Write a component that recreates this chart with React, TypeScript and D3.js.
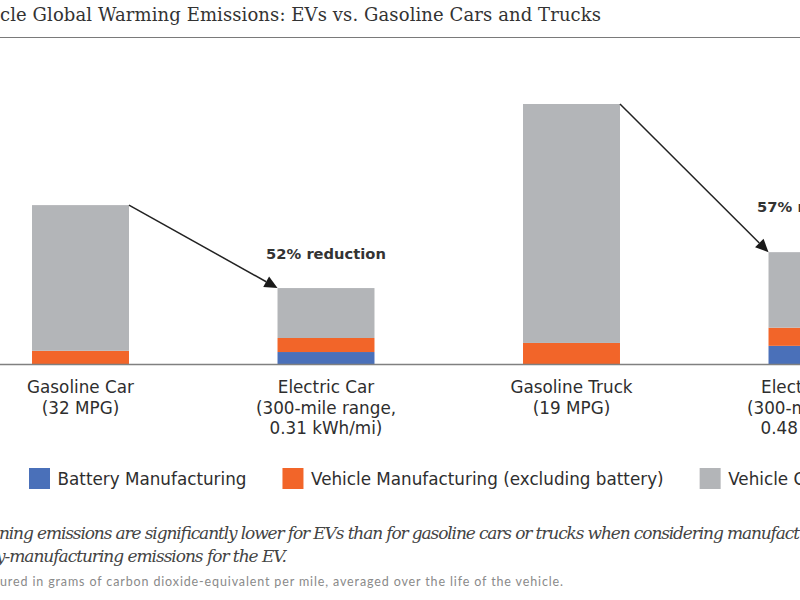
import React, { useEffect, useRef } from "react";
import * as d3 from "d3";

// ---- data (grams CO2e per mile) ----
const categories = ["Gasoline Car", "Electric Car", "Gasoline Truck", "Electric Truck"];
const categoryLabels = [
  ["Gasoline Car", "(32 MPG)"],
  ["Electric Car", "(300-mile range,", "0.31 kWh/mi)"],
  ["Gasoline Truck", "(19 MPG)"],
  ["Electric Truck", "(300-mile range,", "0.48 kWh/mi)"],
];
const batteryManufacturing = [0, 29, 0, 44];
const vehicleManufacturing = [32, 34, 51, 44];
const vehicleOperation = [353, 121, 579, 183];
const seriesNames = [
  "Battery Manufacturing",
  "Vehicle Manufacturing (excluding battery)",
  "Vehicle Operation",
];
const seriesColors = ["#4a70b9", "#f26529", "#b3b5b8"];
const reductionFrom = [0, 2];
const reductionTo = [1, 3];
const reductionLabels = ["52% reduction", "57% reduction"];

const titleText = "cle Global Warming Emissions: EVs vs. Gasoline Cars and Trucks";
const captionLine1 =
  "ning emissions are significantly lower for EVs than for gasoline cars or trucks when considering manufact";
const captionLine2 = "y-manufacturing emissions for the EV.";
const noteText =
  "ured in grams of carbon dioxide-equivalent per mile, averaged over the life of the vehicle.";

const W = 800;
const H = 600;
const SANS = "'DejaVu Sans', 'Open Sans', sans-serif";
const NOTE_SANS = "Lato, 'Open Sans', sans-serif";
const SERIF = "'DejaVu Serif', 'Liberation Serif', serif";

export default function App() {
  const ref = useRef<SVGSVGElement | null>(null);

  useEffect(() => {
    const svg = d3.select(ref.current);
    svg.selectAll("*").remove();

    // title
    svg
      .append("text")
      .attr("x", 0)
      .attr("y", 21)
      .attr("font-family", SERIF)
      .attr("font-size", 18)
      .attr("fill", "#333")
      .attr("textLength", 601)
      .text(titleText);
    svg
      .append("line")
      .attr("x1", 0)
      .attr("x2", W)
      .attr("y1", 37.5)
      .attr("y2", 37.5)
      .attr("stroke", "#7a7a7a")
      .attr("stroke-width", 1.2);

    const x = d3
      .scaleBand<string>()
      .domain(categories)
      .range([-42.25, 939.75])
      .paddingInner(0.605)
      .paddingOuter(0.3025);
    const totals = categories.map(
      (_, i) => batteryManufacturing[i] + vehicleManufacturing[i] + vehicleOperation[i]
    );
    const y = d3.scaleLinear().domain([0, d3.max(totals) as number]).range([364, 104]);

    const rows = categories.map((c, i) => ({
      cat: c,
      b: batteryManufacturing[i],
      m: vehicleManufacturing[i],
      o: vehicleOperation[i],
    }));
    const stack = d3.stack<any>().keys(["b", "m", "o"]);
    const series = stack(rows);

    const g = svg.append("g");
    series.forEach((s, si) => {
      g.selectAll(null)
        .data(s)
        .enter()
        .append("rect")
        .attr("x", (d: any) => x(d.data.cat) as number)
        .attr("width", x.bandwidth())
        .attr("y", (d: any) => y(d[1]))
        .attr("height", (d: any) => Math.max(0, y(d[0]) - y(d[1])))
        .attr("fill", seriesColors[si]);
    });

    // baseline
    svg
      .append("line")
      .attr("x1", 0)
      .attr("x2", W)
      .attr("y1", y(0) + 0.5)
      .attr("y2", y(0) + 0.5)
      .attr("stroke", "#808080")
      .attr("stroke-width", 1.5);

    // category labels
    categoryLabels.forEach((lines, i) => {
      const cx = (x(categories[i]) as number) + x.bandwidth() / 2;
      lines.forEach((ln, li) => {
        svg
          .append("text")
          .attr("x", cx)
          .attr("y", 393 + li * 20.5)
          .attr("text-anchor", "middle")
          .attr("font-family", SANS)
          .attr("font-size", 16.8)
          .attr("fill", "#2e2e2e")
          .text(ln);
      });
    });

    // reduction arrows
    const labelGap = [29, 40];
    reductionFrom.forEach((fi, k) => {
      const ti = reductionTo[k];
      const x1 = (x(categories[fi]) as number) + x.bandwidth();
      const y1 = y(totals[fi]);
      const x2 = x(categories[ti]) as number;
      const y2 = y(totals[ti]);
      const ang = Math.atan2(y2 - y1, x2 - x1);
      const hl = 13;
      const hw = 6;
      const bx = x2 - hl * Math.cos(ang);
      const by = y2 - hl * Math.sin(ang);
      svg
        .append("line")
        .attr("x1", x1)
        .attr("y1", y1)
        .attr("x2", bx)
        .attr("y2", by)
        .attr("stroke", "#222")
        .attr("stroke-width", 1.5);
      const px = -Math.sin(ang);
      const py = Math.cos(ang);
      svg
        .append("path")
        .attr(
          "d",
          `M${x2},${y2}L${bx + px * hw},${by + py * hw}L${bx - px * hw},${by - py * hw}Z`
        )
        .attr("fill", "#1a1a1a");
      svg
        .append("text")
        .attr("x", x2 + x.bandwidth() / 2)
        .attr("y", y2 - labelGap[k])
        .attr("text-anchor", "middle")
        .attr("font-family", SANS)
        .attr("font-size", 14.7)
        .attr("font-weight", 700)
        .attr("fill", "#333")
        .text(reductionLabels[k]);
    });

    // legend
    let lx = 29;
    seriesNames.forEach((name, i) => {
      svg
        .append("rect")
        .attr("x", lx)
        .attr("y", 468)
        .attr("width", 21)
        .attr("height", 21)
        .attr("fill", seriesColors[i]);
      const t = svg
        .append("text")
        .attr("x", lx + 28.5)
        .attr("y", 484.5)
        .attr("font-family", SANS)
        .attr("font-size", 16.8)
        .attr("fill", "#2e2e2e")
        .text(name);
      const tw = (t.node() as SVGTextElement).getComputedTextLength();
      lx = lx + 28.5 + tw + 36;
    });

    // captions
    svg
      .append("text")
      .attr("x", -1)
      .attr("y", 539)
      .attr("font-family", SERIF)
      .attr("font-style", "italic")
      .attr("font-size", 17)
      .attr("fill", "#444")
      .attr("textLength", 801)
      .text(captionLine1);
    svg
      .append("text")
      .attr("x", -4)
      .attr("y", 561.5)
      .attr("font-family", SERIF)
      .attr("font-style", "italic")
      .attr("font-size", 17)
      .attr("fill", "#444")
      .attr("textLength", 291)
      .text(captionLine2);
    svg
      .append("text")
      .attr("x", 0)
      .attr("y", 586)
      .attr("font-family", NOTE_SANS)
      .attr("font-size", 12.5)
      .attr("fill", "#8a8a8a")
      .attr("textLength", 563)
      .text(noteText);
  }, []);

  return (
    <svg
      ref={ref}
      width={W}
      height={H}
      style={{ position: "absolute", left: 0, top: 0, display: "block", background: "#fff" }}
    />
  );
}
